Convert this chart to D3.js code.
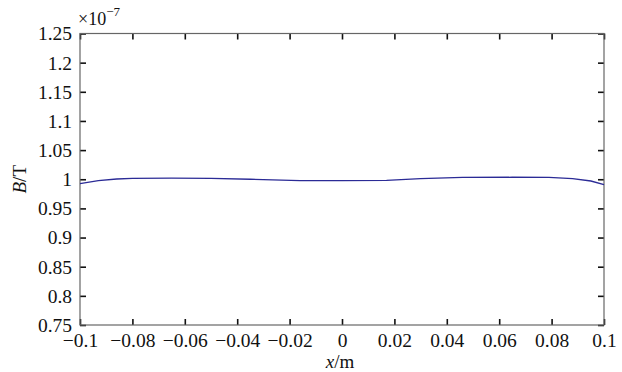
<!DOCTYPE html>
<html>
<head>
<meta charset="utf-8">
<script src="https://cdn.jsdelivr.net/npm/d3@7"></script>
<style>
  body { margin: 0; background: #fff; }
  svg text { font-family: "Liberation Serif", "Times New Roman", Times, "DejaVu Serif", serif !important; fill: #111; }
</style>
</head>
<body>
<div id="chart"></div>
<script>
// field along x (values in units of 1e-7 T)
const xs = [-0.1, -0.093, -0.086, -0.08, -0.065, -0.05, -0.035, -0.016, 0, 0.017, 0.03, 0.046, 0.065, 0.079, 0.088, 0.095, 0.1];
const bs = [0.9926, 0.9978, 1.0004, 1.0015, 1.0018, 1.0016, 1.0, 0.9978, 0.9978, 0.9979, 1.001, 1.0032, 1.0034, 1.0033, 1.0012, 0.9970, 0.9909];
const xTicks = [-0.1, -0.08, -0.06, -0.04, -0.02, 0, 0.02, 0.04, 0.06, 0.08, 0.1];
const yTicks = [0.75, 0.8, 0.85, 0.9, 0.95, 1, 1.05, 1.1, 1.15, 1.2, 1.25];

const W = 622, H = 372;
const margin = { top: 33.5, right: 18, bottom: 47, left: 80 };
const width = W - margin.left - margin.right;
const height = H - margin.top - margin.bottom;

const fmt = (v) => String(+v.toFixed(3)).replace("-", "\u2212");

const svg = d3.select("#chart").append("svg")
  .attr("width", W).attr("height", H);
const g = svg.append("g").attr("transform", `translate(${margin.left},${margin.top})`);

const x = d3.scaleLinear().domain([-0.1, 0.1]).range([0, width]);
const y = d3.scaleLinear().domain([0.75, 1.25]).range([height, 0]);

const tickLen = 6;

// bottom axis
const xAxis = g.append("g").attr("transform", `translate(0,${height})`)
  .call(d3.axisBottom(x).tickValues(xTicks).tickSize(-tickLen).tickPadding(10).tickFormat(fmt));
// top ticks
const xTop = g.append("g")
  .call(d3.axisTop(x).tickValues(xTicks).tickSize(-tickLen).tickFormat(""));
// left axis
const yAxis = g.append("g")
  .call(d3.axisLeft(y).tickValues(yTicks).tickSize(-tickLen).tickPadding(8).tickFormat(fmt));
// right ticks
const yRight = g.append("g").attr("transform", `translate(${width},0)`)
  .call(d3.axisRight(y).tickValues(yTicks).tickSize(-tickLen).tickFormat(""));

[xAxis, xTop, yAxis, yRight].forEach((a) => {
  a.attr("font-family", null).attr("font-size", null);
  a.select(".domain").remove();
  a.selectAll(".tick line").attr("stroke", "#111").attr("stroke-width", 1.6);
  a.selectAll(".tick text").style("font-size", "19.5px").attr("fill", "#111");
});
yAxis.selectAll(".tick text").attr("dy", "0.33em");
xAxis.selectAll(".tick text").attr("dy", "0.6em");

// box
g.append("rect")
  .attr("x", 0).attr("y", 0).attr("width", width).attr("height", height)
  .attr("fill", "none").attr("stroke", "#666").attr("stroke-width", 1.2);

// data line
const line = d3.line()
  .x((d, i) => x(xs[i]))
  .y((d) => y(d));

g.append("path")
  .datum(bs)
  .attr("fill", "none")
  .attr("stroke", "#2b2b96")
  .attr("stroke-width", 1.3)
  .attr("d", line);

// exponent label
const ex = svg.append("text").attr("x", margin.left - 2).attr("y", 25).style("font-size", "18px");
ex.append("tspan").text("\u00d710");
ex.append("tspan").attr("dy", -9).style("font-size", "13px").text("\u22127");

// x label
const xl = svg.append("text").attr("x", margin.left + width / 2 - 2).attr("y", H - 4)
  .attr("text-anchor", "middle").style("font-size", "19px");
xl.append("tspan").style("font-style", "italic").text("x");
xl.append("tspan").text("/m");

// y label
const yl = svg.append("text")
  .attr("transform", `translate(26,${margin.top + height / 2}) rotate(-90)`)
  .attr("text-anchor", "middle").style("font-size", "19px");
yl.append("tspan").style("font-style", "italic").text("B");
yl.append("tspan").text("/T");
</script>
</body>
</html>
